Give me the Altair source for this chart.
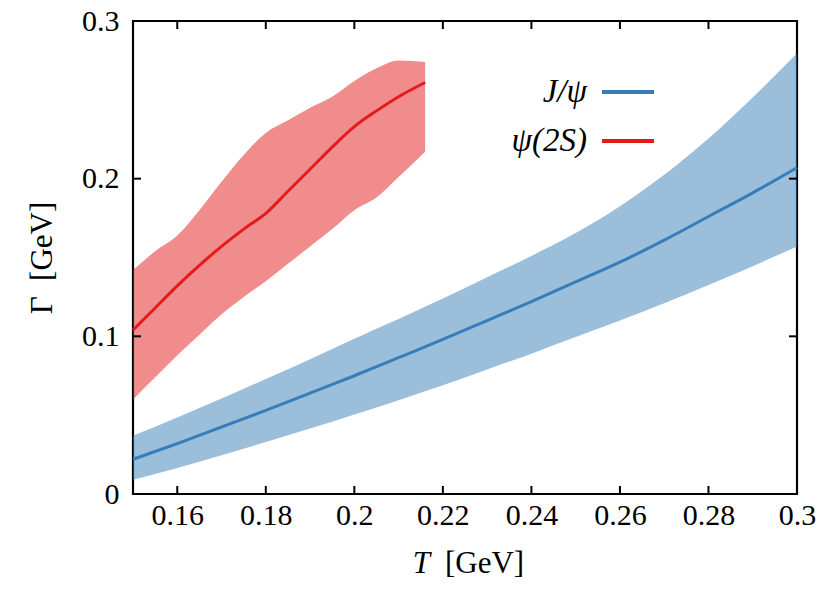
import altair as alt
import pandas as pd

# ---- data ----
T_blue = [0.15, 0.16, 0.17, 0.18, 0.19, 0.20, 0.21, 0.22, 0.23, 0.24, 0.25, 0.26, 0.27, 0.28, 0.29, 0.30]
blue_mid = [0.022, 0.032, 0.0425, 0.053, 0.064, 0.075, 0.0865, 0.098, 0.110, 0.122, 0.1345, 0.147, 0.161, 0.176, 0.191, 0.207]
blue_lo = [0.009, 0.0165, 0.0245, 0.033, 0.0415, 0.0505, 0.0595, 0.069, 0.079, 0.089, 0.0995, 0.110, 0.121, 0.1325, 0.1445, 0.157]
blue_hi = [0.037, 0.0485, 0.0605, 0.073, 0.0855, 0.0985, 0.111, 0.124, 0.1375, 0.151, 0.1655, 0.1825, 0.2025, 0.2255, 0.2515, 0.2795]

T_red = [0.15, 0.155, 0.16, 0.165, 0.17, 0.175, 0.18, 0.185, 0.19, 0.195, 0.2, 0.205, 0.21, 0.216]
red_mid = [0.104, 0.118, 0.132, 0.145, 0.157, 0.168, 0.178, 0.192, 0.206, 0.220, 0.233, 0.243, 0.252, 0.261]
red_hi = [0.142, 0.154, 0.164, 0.180, 0.198, 0.215, 0.229, 0.237, 0.245, 0.252, 0.262, 0.270, 0.275, 0.274]
red_lo = [0.060, 0.074, 0.088, 0.101, 0.114, 0.125, 0.135, 0.146, 0.157, 0.168, 0.180, 0.188, 0.201, 0.217]

x_labels = [0.16, 0.18, 0.20, 0.22, 0.24, 0.26, 0.28, 0.30]
x_ticks = [0.16, 0.18, 0.20, 0.22, 0.24, 0.26, 0.28]
y_labels = [0.0, 0.1, 0.2, 0.3]
y_ticks = [0.1, 0.2]

series_names = ["J/ψ", "ψ(2S)"]
series_colors = ["#377eb8", "#e41a1c"]
x_title_parts = ["T", "[GeV]"]
y_title = "Γ\u00a0\u00a0[GeV]"

# ---- layout ----
W, H = 664, 473
FONT = "Liberation Serif"
FS = 30
TFS = 31
LFS = 33

blue = pd.DataFrame({"T": T_blue, "mid": blue_mid, "lo": blue_lo, "hi": blue_hi})
red = pd.DataFrame({"T": T_red, "mid": red_mid, "lo": red_lo, "hi": red_hi})

xs = alt.Scale(domain=[0.15, 0.3], nice=False, zero=False)
ys = alt.Scale(domain=[0, 0.3], nice=False, zero=False)

x_axis = alt.Axis(values=x_labels, format="~g", domain=False, ticks=False, tickSize=0,
                  grid=False, labelFont=FONT, labelFontSize=FS, labelColor="black",
                  labelPadding=6, labelFlush=False, labelOverlap=False, labelBound=False,
                  title=None)
y_axis = alt.Axis(values=y_labels, format="~g", domain=False, ticks=False, tickSize=0,
                  grid=False, labelFont=FONT, labelFontSize=FS, labelColor="black",
                  labelPadding=14, labelBaseline="middle", labelFlush=False,
                  labelOverlap=False, labelBound=False,
                  title=y_title, titleFont=FONT, titleFontSize=TFS, titleFontWeight="normal",
                  titleColor="black", titleAngle=270, titleX=-91, titleY=H / 2,
                  titleAlign="center", titleBaseline="middle")


def X(field):
    return alt.X(field, scale=xs, axis=x_axis)


def Y(field):
    return alt.Y(field, scale=ys, axis=y_axis)


def band(df, color):
    return alt.Chart(df).mark_area(color=color, opacity=0.5, interpolate="monotone").encode(
        x=X("T:Q"), y=Y("lo:Q"), y2="hi:Q",
    )


def line(df, color):
    return alt.Chart(df).mark_line(color=color, strokeWidth=3, interpolate="monotone").encode(
        x=X("T:Q"), y=Y("mid:Q"),
    )


xt = pd.DataFrame({"v": x_ticks})
yt = pd.DataFrame({"v": y_ticks})
TL = 8
tick_style = dict(color="black", strokeWidth=2)
ticks_bottom = alt.Chart(xt).mark_rule(**tick_style).encode(
    x=X("v:Q"), y=alt.value(H), y2=alt.value(H - TL))
ticks_top = alt.Chart(xt).mark_rule(**tick_style).encode(
    x=X("v:Q"), y=alt.value(0), y2=alt.value(TL))
ticks_left = alt.Chart(yt).mark_rule(**tick_style).encode(
    y=Y("v:Q"), x=alt.value(0), x2=alt.value(TL))
ticks_right = alt.Chart(yt).mark_rule(**tick_style).encode(
    y=Y("v:Q"), x=alt.value(W), x2=alt.value(W - TL))

# x-axis title with italic T
xt_df = pd.DataFrame({"t": x_title_parts})
xtitle_T = alt.Chart(xt_df.iloc[[0]]).mark_text(
    font=FONT, fontSize=TFS, fontStyle="italic", align="right", baseline="alphabetic", color="black"
).encode(x=alt.value(297), y=alt.value(552), text="t:N")
xtitle_unit = alt.Chart(xt_df.iloc[[1]]).mark_text(
    font=FONT, fontSize=TFS, align="left", baseline="alphabetic", color="black"
).encode(x=alt.value(312), y=alt.value(552), text="t:N")

# custom legend (labels left of the line samples)
leg_layers = []
leg_y = [71, 120]
for i, (name, col) in enumerate(zip(series_names, series_colors)):
    d = pd.DataFrame({"name": [name]})
    leg_layers.append(
        alt.Chart(d).mark_text(font=FONT, fontSize=LFS, fontStyle="italic", align="right",
                               baseline="middle", color="black").encode(
            x=alt.value(454), y=alt.value(leg_y[i]), text="name:N"))
    leg_layers.append(
        alt.Chart(d).mark_rule(color=col, strokeWidth=4).encode(
            x=alt.value(469), x2=alt.value(521), y=alt.value(leg_y[i])))

chart = alt.layer(
    band(blue, series_colors[0]),
    band(red, series_colors[1]),
    line(blue, series_colors[0]),
    line(red, series_colors[1]),
    ticks_bottom, ticks_top, ticks_left, ticks_right,
    xtitle_T, xtitle_unit,
    *leg_layers,
).properties(
    width=W, height=H,
    padding={"left": 125, "top": 13, "right": 25, "bottom": 91},
    autosize=alt.AutoSizeParams(type="none"),
    background="white",
).configure_view(stroke="black", strokeWidth=2.2)

chart.save("out.html", embed_options={"renderer": "svg", "actions": False})
